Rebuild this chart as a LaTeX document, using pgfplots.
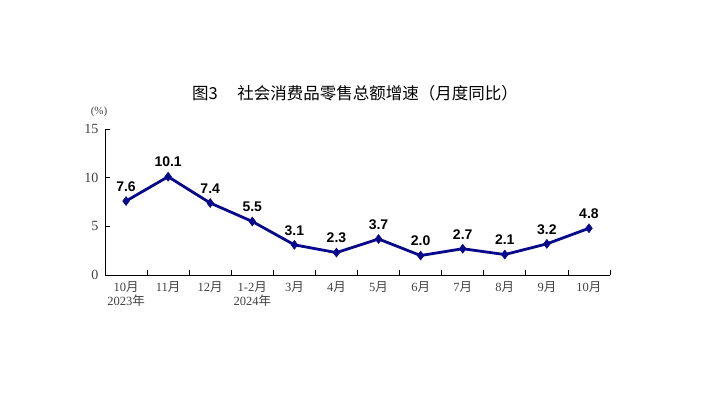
\documentclass[border=0pt]{standalone}
\usepackage{fontspec}
\setmainfont{Liberation Serif}
\newfontfamily\cjk{Noto Sans CJK SC}
\newfontfamily\lab{Liberation Sans}
\usepackage{pgfplots}
\pgfplotsset{compat=1.18}
\definecolor{navyline}{RGB}{8,8,138}
\begin{document}
\begin{tikzpicture}[x=1pt,y=1pt]
\useasboundingbox (0,0) rectangle (708,407);
\begin{axis}[
  at={(105pt,132pt)}, anchor=origin,
  scale only axis, width=505pt, height=146pt,
  xmin=0, xmax=12, ymin=0, ymax=15,
  axis x line*=bottom, axis y line*=left,
  axis line style={black, line width=0.8pt, -},
  xtick={0.5,1.5,2.5,3.5,4.5,5.5,6.5,7.5,8.5,9.5,10.5,11.5},
  xticklabels={{10{\cjk 月}\\2023{\cjk 年}},{11{\cjk 月}},{12{\cjk 月}},{1-2{\cjk 月}\\2024{\cjk 年}},{3{\cjk 月}},{4{\cjk 月}},{5{\cjk 月}},{6{\cjk 月}},{7{\cjk 月}},{8{\cjk 月}},{9{\cjk 月}},{10{\cjk 月}}},
  x tick label style={align=center, font=\fontsize{12.5}{14}\selectfont, text=black!75, anchor=north, yshift=-3pt},
  major x tick style={draw=none},
  minor xtick={0,1,...,12},
  minor tick length=5pt,
  minor x tick style={black, line width=0.8pt},
  ytick={0,5,10,15},
  y tick label style={font=\fontsize{14}{15}\selectfont, text=black!75, xshift=-3pt},
  yticklabel style={/pgf/number format/assume math mode=true},
  major tick length=5pt,
  major y tick style={black, line width=0.8pt},
  tick align=inside,
  clip=false,
  nodes near coords,
  every node near coord/.append style={font=\lab\bfseries\fontsize{14}{15}\selectfont, text=black, anchor=south, yshift=6pt},
  nodes near coords={\pgfmathprintnumber[fixed,fixed zerofill,precision=1,assume math mode=true]{\pgfplotspointmeta}},
]
\addplot[navyline, line width=2.8pt, mark=diamond*, mark size=4.5pt, mark options={fill=navyline, line width=0.5pt}]
coordinates {(0.5,7.6) (1.5,10.1) (2.5,7.4) (3.5,5.5) (4.5,3.1) (5.5,2.3) (6.5,3.7) (7.5,2.0) (8.5,2.7) (9.5,2.1) (10.5,3.2) (11.5,4.8)};
\end{axis}
\node[font=\fontsize{11}{12}\selectfont, text=black!75] at (99,295) {(\%)};
\node[font=\cjk\fontsize{16.5}{18}\selectfont] at (355,314) {图3\hspace{1.2em}社会消费品零售总额增速（月度同比）};
\end{tikzpicture}
\end{document}
